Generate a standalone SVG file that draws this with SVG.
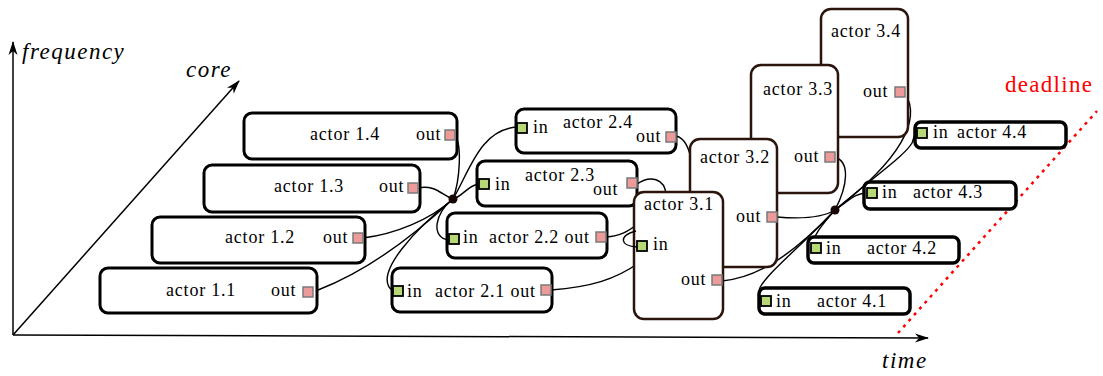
<svg xmlns="http://www.w3.org/2000/svg" width="1103" height="376" viewBox="0 0 1103 376" font-family="Liberation Serif, Tinos, Times New Roman, Nimbus Roman, DejaVu Serif, serif">
<defs>
<marker id="arr" markerUnits="userSpaceOnUse" markerWidth="14" markerHeight="10" viewBox="0 0 14 10" refX="13" refY="5" orient="auto">
<path d="M0,0.5 L14,5 L0,9.5 L4,5 Z" fill="#000"/>
</marker>
</defs>
<style>
text{font-family:'Liberation Serif','Tinos','Times New Roman','Nimbus Roman','DejaVu Serif',serif;fill:#000}
.lbl{font-size:18px;letter-spacing:0.8px}
.ax{font-size:23px;font-style:italic;letter-spacing:1.5px}
.b1{fill:#fff;stroke:#000;stroke-width:3}
.b3{fill:#fff;stroke:#2a140c;stroke-width:2.5}
.b4{fill:#fff;stroke:#000;stroke-width:3.5}
.po{fill:#ec9a9a;stroke:#7a7a7a;stroke-width:1.5}
.pi{fill:#b8d878;stroke:#000;stroke-width:1.8}
.axis{stroke:#000;stroke-width:1.5;fill:none}
.c{fill:none;stroke:#000;stroke-width:1.4}
</style>
<rect width="1103" height="376" fill="#fff"/>
<g id="axes">
<line class="axis" x1="13" y1="335" x2="13" y2="42" marker-end="url(#arr)"/>
<line class="axis" x1="13" y1="335" x2="928" y2="338" marker-end="url(#arr)"/>
<line class="axis" x1="13" y1="335" x2="239" y2="81" marker-end="url(#arr)"/>
<text class="ax" x="22" y="59">frequency</text>
<text class="ax" x="186" y="77">core</text>
<text class="ax" x="882" y="368">time</text>
</g>
<g id="deadline">
<line x1="898" y1="333" x2="1097" y2="111" stroke="#f00" stroke-width="2.5" stroke-dasharray="3 5"/>
<text x="1005" y="92" style="font-size:23px;letter-spacing:1.3px;fill:#f00">deadline</text>
</g>
<g id="connectors">
<path class="c" d="M455,135 C462,145 460,180 453,199"/>
<path class="c" d="M418,188 C435,184 443,196 453,199"/>
<path class="c" d="M363,238 C395,234 430,220 453,199"/>
<path class="c" d="M318,290 C370,270 420,230 453,199"/>
<path class="c" d="M453,199 C470,170 480,130 517,127"/>
<path class="c" d="M453,199 C462,197 468,185 479,184"/>
<path class="c" d="M453,199 C435,212 430,238 449,240"/>
<path class="c" d="M453,199 C420,225 370,275 393,291"/>
<path class="c" d="M676,136 C685,138 690,150 692,165"/>
<path class="c" d="M637,184 C650,175 665,178 666,195"/>
<path class="c" d="M606,237 C620,236 628,232 640,222"/>
<path class="c" d="M551,290 C590,287 615,280 640,262"/>
<path class="c" d="M722,281 C755,278 790,258 835,210"/>
<path class="c" d="M777,217 C800,219 822,218 835,210"/>
<path class="c" d="M835,157 C850,162 848,185 835,210"/>
<path class="c" d="M905,93 C922,120 900,160 835,210"/>
<path class="c" d="M835,210 C880,172 905,155 912,143 C914,138 914,134 917,133"/>
<path class="c" d="M835,210 C850,200 855,193 867,193"/>
<path class="c" d="M835,210 C825,222 815,232 811,246"/>
<path class="c" d="M835,210 C800,248 758,280 759,292 C759,297 760,300 762,301"/>
<circle cx="453" cy="199" r="4.5" fill="#1a0505"/>
<circle cx="835" cy="210" r="4.5" fill="#1a0505"/>
</g>
<g id="actor-1-1">
<rect class="b1" x="100" y="268" width="217" height="45" rx="8"/>
<text class="lbl" x="166" y="296">actor 1.1</text>
<text class="lbl" x="271" y="296">out</text>
<rect class="po" x="303" y="287" width="10" height="10"/>
</g>
<g id="actor-1-2">
<rect class="b1" x="152" y="217" width="213" height="46" rx="8"/>
<text class="lbl" x="225" y="243">actor 1.2</text>
<text class="lbl" x="323" y="243">out</text>
<rect class="po" x="353" y="233" width="10" height="10"/>
</g>
<g id="actor-1-3">
<rect class="b1" x="204" y="165" width="216" height="47" rx="8"/>
<text class="lbl" x="274" y="192">actor 1.3</text>
<text class="lbl" x="379" y="192">out</text>
<rect class="po" x="408" y="183" width="10" height="10"/>
</g>
<g id="actor-1-4">
<rect class="b1" x="244" y="113" width="213" height="46" rx="8"/>
<text class="lbl" x="310" y="140">actor 1.4</text>
<text class="lbl" x="416" y="140">out</text>
<rect class="po" x="445" y="130" width="10" height="10"/>
</g>
<g id="actor-2-4">
<rect class="b1" x="516" y="109" width="160" height="44" rx="8"/>
<rect class="pi" x="517" y="123" width="10" height="10"/>
<text class="lbl" x="533" y="133">in</text>
<text class="lbl" x="563" y="128">actor 2.4</text>
<text class="lbl" x="636" y="142">out</text>
<rect class="po" x="666" y="132" width="10" height="10"/>
</g>
<g id="actor-2-3">
<rect class="b1" x="477" y="161" width="160" height="45" rx="8"/>
<rect class="pi" x="479" y="179" width="10" height="10"/>
<text class="lbl" x="495" y="190">in</text>
<text class="lbl" x="525" y="181">actor 2.3</text>
<text class="lbl" x="593" y="195">out</text>
<rect class="po" x="627" y="178" width="10" height="10"/>
</g>
<g id="actor-2-2">
<rect class="b1" x="447" y="213" width="160" height="45" rx="8"/>
<rect class="pi" x="449" y="234" width="10" height="10"/>
<text class="lbl" x="463" y="243">in</text>
<text class="lbl" x="489" y="243">actor 2.2 out</text>
<rect class="po" x="596" y="232" width="10" height="10"/>
</g>
<g id="actor-2-1">
<rect class="b1" x="392" y="268" width="160" height="44" rx="8"/>
<rect class="pi" x="393" y="286" width="10" height="10"/>
<text class="lbl" x="407" y="297">in</text>
<text class="lbl" x="435" y="297">actor 2.1 out</text>
<rect class="po" x="541" y="285" width="10" height="10"/>
</g>
<g id="actor-3-4">
<rect class="b3" x="821" y="9" width="87" height="128" rx="10"/>
<text class="lbl" x="831" y="37">actor 3.4</text>
<text class="lbl" x="863" y="97">out</text>
<rect class="po" x="895" y="87" width="10" height="10"/>
</g>
<g id="actor-3-3">
<rect class="b3" x="751" y="65" width="87" height="128" rx="10"/>
<text class="lbl" x="763" y="95">actor 3.3</text>
<text class="lbl" x="794" y="162">out</text>
<rect class="po" x="825" y="152" width="10" height="10"/>
</g>
<g id="actor-3-2">
<rect class="b3" x="690" y="139" width="87" height="128" rx="10"/>
<text class="lbl" x="700" y="163">actor 3.2</text>
<text class="lbl" x="736" y="222">out</text>
<rect class="po" x="767" y="212" width="10" height="10"/>
</g>
<g id="actor-3-1">
<rect class="b3" x="634" y="192" width="89" height="127" rx="10"/>
<text class="lbl" x="644" y="210">actor 3.1</text>
<rect class="pi" x="637" y="241" width="10" height="10"/>
<text class="lbl" x="653" y="250">in</text>
<text class="lbl" x="681" y="285">out</text>
<rect class="po" x="712" y="275" width="10" height="10"/>
</g>
<path class="c" d="M637,247 C620,246 618,236 636,231"/>
<g id="actor-4-4">
<rect class="b4" x="915" y="122" width="151" height="26" rx="6"/>
<rect class="pi" x="917" y="128" width="10" height="10"/>
<text class="lbl" x="933" y="138">in</text>
<text class="lbl" x="957" y="138">actor 4.4</text>
</g>
<g id="actor-4-3">
<rect class="b4" x="864" y="182" width="152" height="27" rx="6"/>
<rect class="pi" x="867" y="188" width="10" height="10"/>
<text class="lbl" x="882" y="198">in</text>
<text class="lbl" x="913" y="198">actor 4.3</text>
</g>
<g id="actor-4-2">
<rect class="b4" x="808" y="237" width="151" height="26" rx="6"/>
<rect class="pi" x="811" y="243" width="10" height="10"/>
<text class="lbl" x="826" y="254">in</text>
<text class="lbl" x="867" y="254">actor 4.2</text>
</g>
<g id="actor-4-1">
<rect class="b4" x="759" y="288" width="151" height="26" rx="6"/>
<rect class="pi" x="761" y="296" width="10" height="10"/>
<text class="lbl" x="776" y="307">in</text>
<text class="lbl" x="817" y="307">actor 4.1</text>
</g>
</svg>
